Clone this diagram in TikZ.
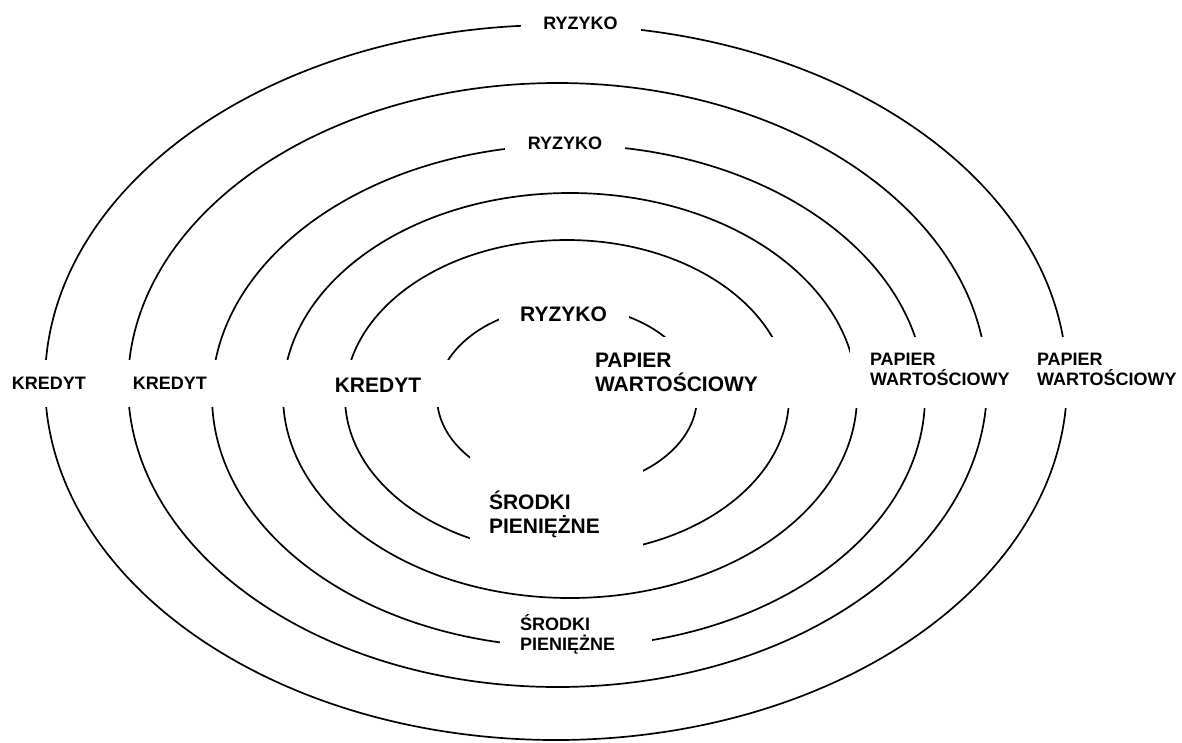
\documentclass[tikz,border=0pt]{standalone}
\usepackage{fontspec}
\setmainfont{Liberation Sans Bold}

\begin{document}
\begin{tikzpicture}[
		x=1pt,y=-1pt,
		ring/.style={line width=1.7pt},
		lbl/.style={fill=white,inner ysep=0pt,outer sep=0pt,anchor=base west,align=left,font=\fontsize{18}{20.5}\selectfont},
		big/.style={font=\fontsize{21}{24.5}\selectfont},
		mid/.style={align=center,inner xsep=0pt}
		]
		\useasboundingbox (0,0) rectangle (1182,742);

		\draw[ring] (556,382.5) ellipse [x radius=511, y radius=357.5];
		\draw[ring] (557.5,385) ellipse [x radius=429.5, y radius=302];
		\draw[ring] (568.5,396) ellipse [x radius=356.5, y radius=251];
		\draw[ring] (570,395.5) ellipse [x radius=287, y radius=202.5];
		\draw[ring] (567,397) ellipse [x radius=222, y radius=157];
		\draw[ring] (567,397) ellipse [x radius=130, y radius=91];

		\node[lbl,mid,text width=120pt,text height=19pt,text depth=16pt] (ryzykoA) at (520.5,29) {RYZYKO};
		\node[lbl,mid,text width=120pt,text height=21pt,text depth=19pt] (ryzykoB) at (505,149) {RYZYKO};
		\node[lbl,big,mid,text width=130pt,text height=24pt,text depth=12pt] (ryzykoC) at (498.5,321) {RYZYKO};

		\node[lbl,mid,text width=90pt,text height=29pt,text depth=18pt] (kredytA) at (4,389) {KREDYT};
		\node[lbl,mid,text width=100pt,text height=29pt,text depth=18pt] (kredytB) at (120,389) {KREDYT};
		\node[lbl,big,mid,text width=198pt,text height=32pt,text depth=15pt] (kredytC) at (279,392) {KREDYT};

		\node[lbl,big,inner xsep=5pt,text width=196pt,text height=30pt,text depth=41pt] (papierA) at (590,367) {PAPIER\\WARTOŚCIOWY};
		\node[lbl,inner xsep=20pt,text width=145pt,text height=28pt,text depth=43pt] (papierB) at (850,365) {PAPIER\\WARTOŚCIOWY};
		\node[lbl,inner xsep=7pt,text width=146pt,text height=28pt,text depth=43pt] (papierC) at (1030,365) {PAPIER\\WARTOŚCIOWY};

		\node[lbl,big,inner xsep=19pt,text width=135pt,text height=54pt,text depth=63pt] (srodkiA) at (470,509) {ŚRODKI\\PIENIĘŻNE};
		\node[lbl,inner xsep=20pt,text width=112pt,text height=26pt,text depth=35pt] (srodkiB) at (500,630) {ŚRODKI\\PIENIĘŻNE};
\end{tikzpicture}
\end{document}
